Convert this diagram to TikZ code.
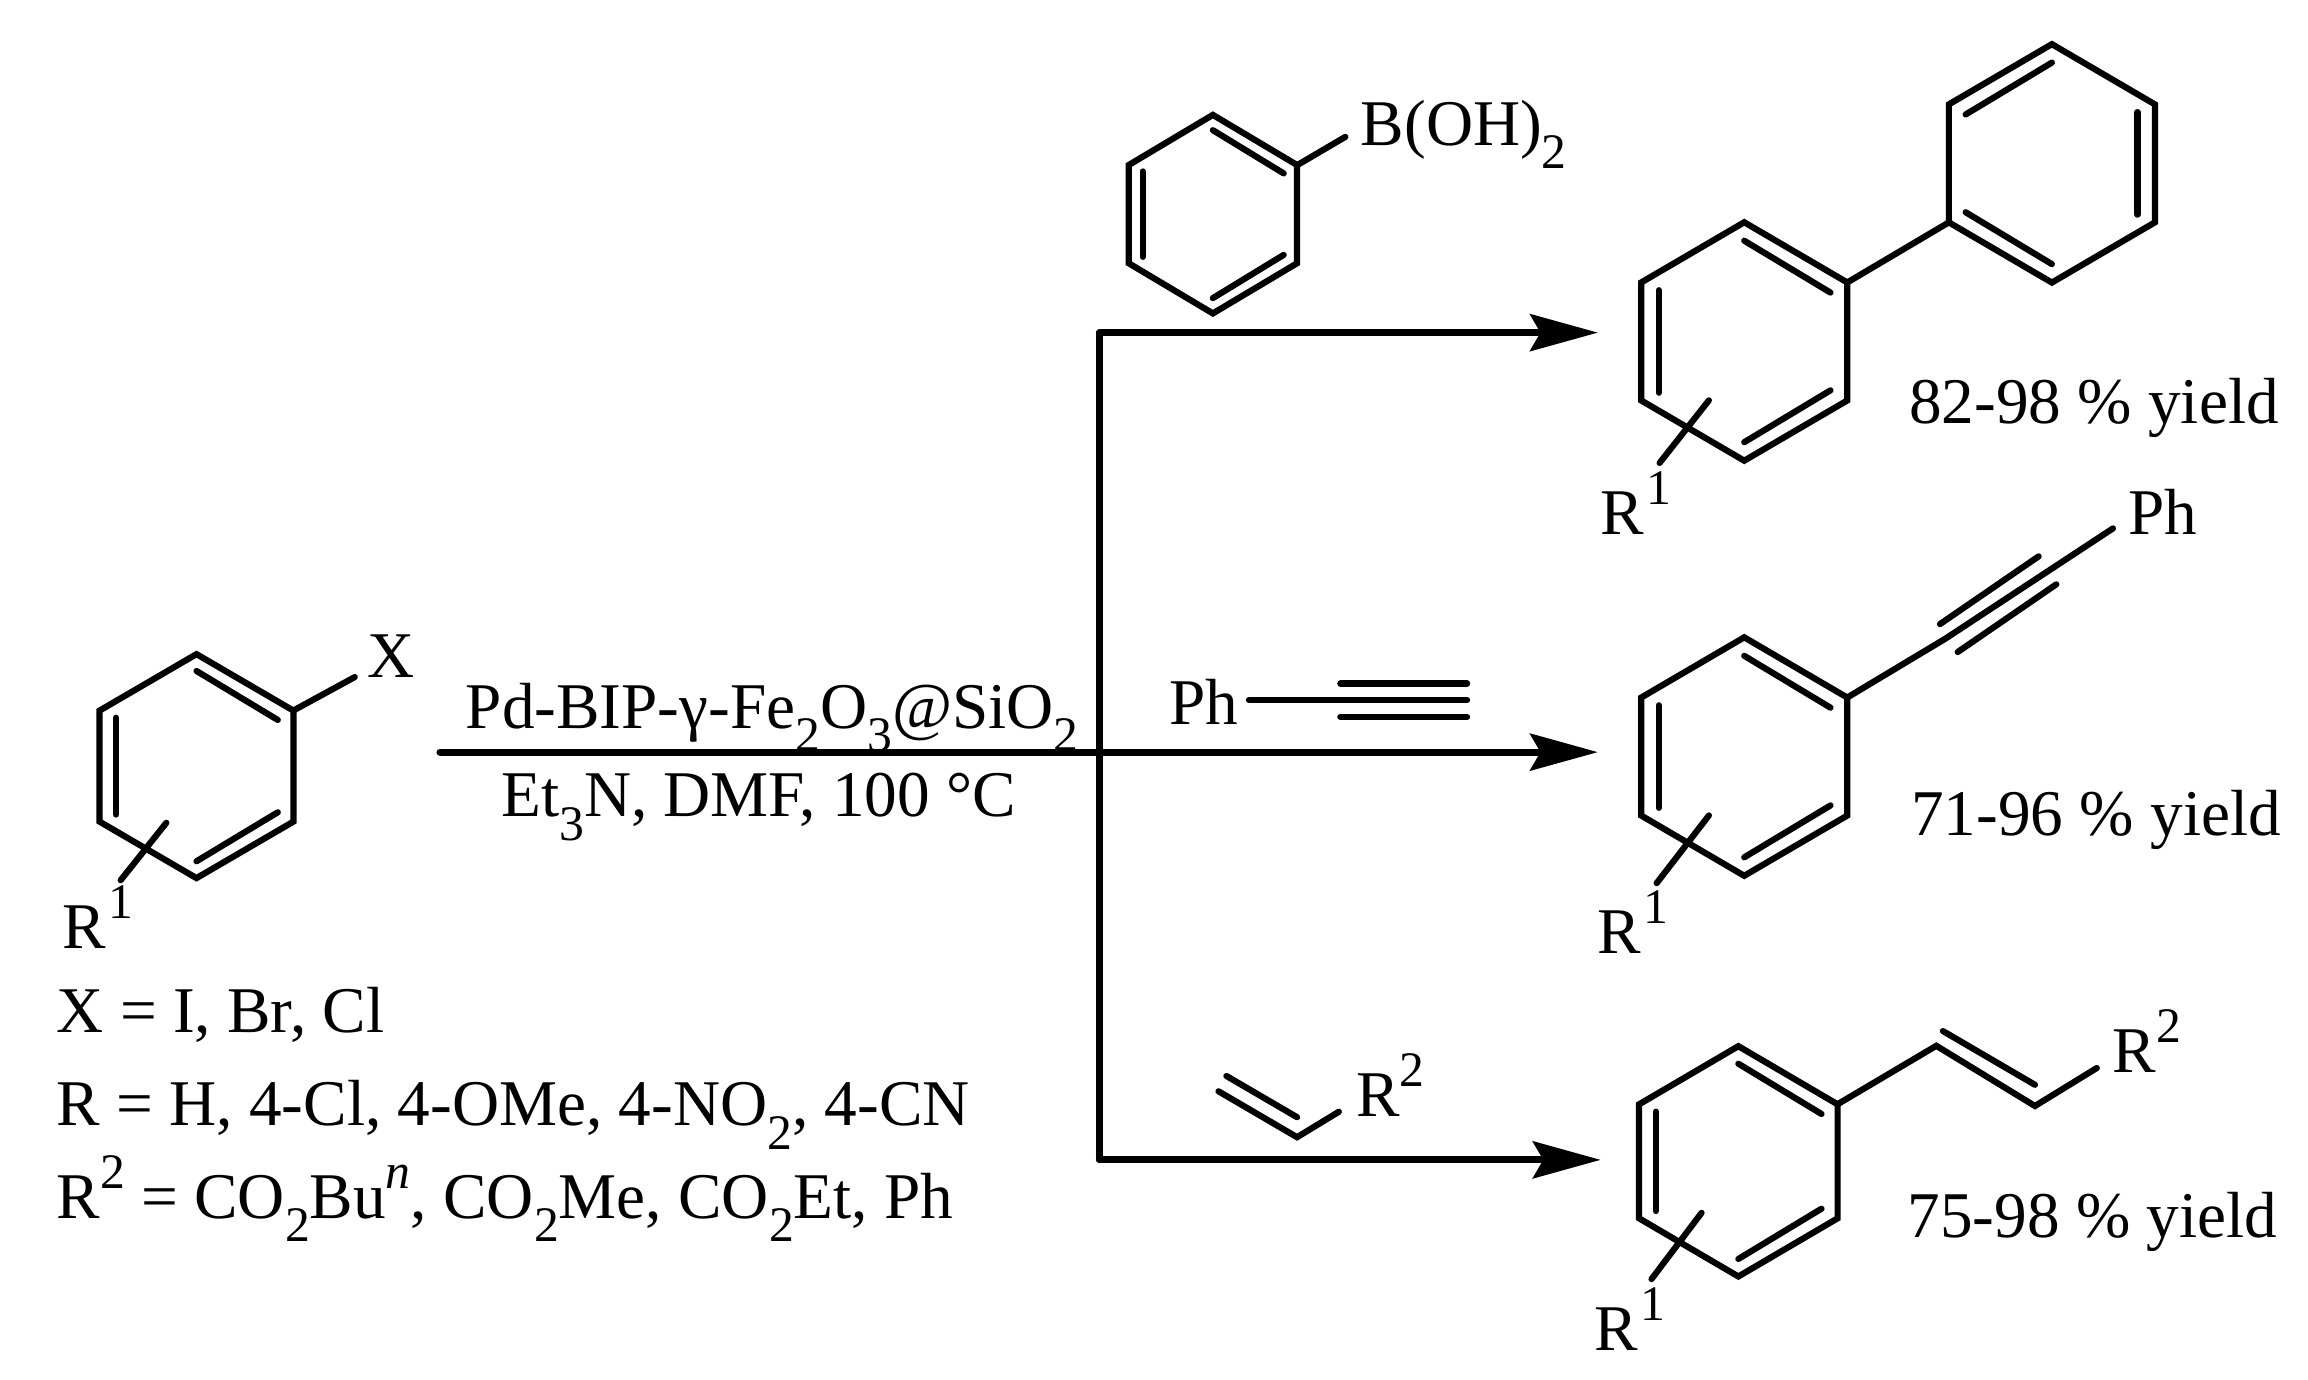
\documentclass[tikz,border=0pt]{standalone}
\usepackage{fontspec}
\setmainfont{Liberation Serif}
\usetikzlibrary{arrows.meta}
\tikzset{
  bond/.style={line width=1.2pt, line cap=round},
  rxnline/.style={line width=1.4pt, line cap=round},
  rxnarrow/.style={rxnline, -{Stealth[length=0.46cm, width=0.25cm, inset=0.07cm]}},
  chemlabel/.style={inner sep=0pt, anchor=base west, xshift=-0.012cm, yshift=-0.008cm, font=\fontsize{12.6}{15}\selectfont},
}
\newcommand{\lowr}[1]{\raisebox{-0.36em}{\fontsize{9.6}{9.6}\selectfont #1}}
\newcommand{\uppr}[1]{\raisebox{0.46em}{\fontsize{9.6}{9.6}\selectfont #1}}
\newcommand{\phring}[5]{
\begin{scope}[shift={(#2,#3)}, xscale=#4, yscale=#5]
\coordinate (#1a) at (0,-1);
\coordinate (#1b) at (1,-0.495);
\coordinate (#1c) at (1,0.495);
\coordinate (#1d) at (0,1);
\coordinate (#1e) at (-1,0.495);
\coordinate (#1f) at (-1,-0.495);
\draw[bond] (#1a) -- (#1b) -- (#1c) -- (#1d) -- (#1e) -- (#1f) -- cycle;
\draw[bond] (0,-0.845) -- (0.837,-0.41);
\draw[bond] (-0.83,-0.43) -- (-0.83,0.43);
\draw[bond] (0.837,0.41) -- (0,0.845);
\end{scope}
}
\begin{document}
\begin{tikzpicture}[x=0.01cm, y=-0.01cm]
\useasboundingbox (0,0) rectangle (1568,937.5);

\phring{sm}{133.5}{520.5}{66}{76.5}
\phring{ba}{824}{145.5}{57.5}{67.5}
\phring{pa}{1185}{232}{70}{81}
\phring{pb}{1394}{111}{-70}{81}
\phring{pc}{1185}{514}{70}{81}
\phring{pd}{1181}{789}{67.5}{78.5}

\coordinate (xend) at (241,460);
\coordinate (rsmup) at (113,559);
\coordinate (rsmlo) at (82,598);
\coordinate (bend) at (914,93);
\coordinate (rpaup) at (1161,272);
\coordinate (rpalo) at (1127.5,314.5);
\coordinate (rpcup) at (1161,554);
\coordinate (rpclo) at (1125.5,600);
\coordinate (rpdup) at (1156,824);
\coordinate (rpdlo) at (1122,869);

\draw[bond] (smb) -- (xend);
\draw[bond] (rsmup) -- (rsmlo);
\draw[bond] (bab) -- (bend);
\draw[bond] (pab) -- (pbc);
\draw[bond] (rpaup) -- (rpalo);
\draw[bond] (rpcup) -- (rpclo);
\draw[bond] (rpdup) -- (rpdlo);

\coordinate (alka) at (1321.5,434);
\coordinate (alkb) at (1435.5,359);
\draw[bond] (pcb) -- (alka) -- (alkb);
\draw[bond] (1318,424) -- (1385,378);
\draw[bond] (1330,443) -- (1397,397);

\coordinate (vina) at (1315.5,710.5);
\coordinate (vinb) at (1382.5,751.4);
\coordinate (vinc) at (1424.5,725.6);
\draw[bond] (pdb) -- (vina) -- (vinb) -- (vinc);
\draw[bond] (1320,700.5) -- (1382.5,737);

\coordinate (reva) at (827.8,741.4);
\coordinate (revb) at (881.2,772.6);
\coordinate (revc) at (909.6,755.3);
\draw[bond] (reva) -- (revb) -- (revc);
\draw[bond] (833.2,731) -- (881.2,759);

\coordinate (raka) at (848.5,475.6);
\coordinate (rakb) at (996.7,475.6);
\draw[bond] (raka) -- (rakb);
\draw[bond] (910.6,464.4) -- (996.7,464.4);
\draw[bond] (910.6,487) -- (996.7,487);

\coordinate (rxnstart) at (299,511);
\coordinate (jtop) at (747,226);
\coordinate (jmid) at (747,511);
\coordinate (jbot) at (747,788);
\coordinate (tiptop) at (1085.6,226);
\coordinate (tipmid) at (1085.6,511);
\coordinate (tipbot) at (1087.5,788);
\draw[bond] (jtop) -- (jbot);
\draw[rxnarrow] (jtop) -- (tiptop);
\draw[rxnarrow] (rxnstart) -- (jmid) -- (tipmid);
\draw[rxnarrow] (jbot) -- (tipbot);

\node[chemlabel] (xlabel) at (250.5,459.4) {X};
\node[chemlabel] (catlabel) at (317,494) {Pd-BIP-γ-Fe\lowr{2}O\lowr{3}@SiO\lowr{2}};
\node[chemlabel] (condlabel) at (341,554) {Et\lowr{3}N, DMF, 100 °C};
\node[chemlabel] (rsm) at (43,643.6) {R\kern0.04em\uppr{1}};
\node[chemlabel] (xlist) at (39,700.7) {X = I, Br, Cl};
\node[chemlabel] (rlist) at (39,764) {R = H, 4-Cl, 4-OMe, 4-NO\lowr{2}, 4-CN};
\node[chemlabel] (rtwolist) at (39,827) {R\uppr{2} = CO\lowr{2}Bu\uppr{\itshape n}, CO\lowr{2}Me, CO\lowr{2}Et, Ph};

\node[chemlabel] (boh) at (925,98) {B(OH)\lowr{2}};
\node[chemlabel] (rpa) at (1088,362) {R\kern0.04em\uppr{1}};
\node[chemlabel] (yielda) at (1297.6,287) {82-98 \% yield};

\node[chemlabel] (phprod) at (1446.5,362) {Ph};
\node[chemlabel] (phreag) at (795,491.4) {Ph};
\node[chemlabel] (rpc) at (1085.5,647) {R\kern0.04em\uppr{1}};
\node[chemlabel] (yieldb) at (1299,566.5) {71-96 \% yield};

\node[chemlabel] (rreag) at (922,757.4) {R\uppr{2}};
\node[chemlabel] (rprod) at (1436,728) {R\uppr{2}};
\node[chemlabel] (rpd) at (1084,917) {R\kern0.04em\uppr{1}};
\node[chemlabel] (yieldc) at (1296.5,840) {75-98 \% yield};
\end{tikzpicture}
\end{document}
